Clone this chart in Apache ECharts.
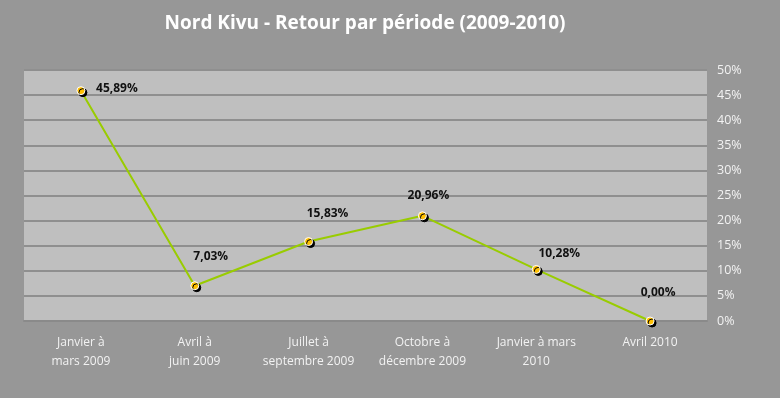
<!DOCTYPE html>
<html>
<head>
<meta charset="utf-8">
<script src="https://cdn.jsdelivr.net/npm/echarts@6/dist/echarts.min.js"></script>
<style>
  html, body { margin: 0; padding: 0; background: #979797; }
  #chart { width: 780px; height: 398px; }
</style>
</head>
<body>
<div id="chart"></div>
<script>
// Periods (x axis) and the return rate per period, in percent
const periods = [
  'Janvier à\nmars 2009',
  'Avril à\njuin 2009',
  'Juillet à\nseptembre 2009',
  'Octobre à\ndécembre 2009',
  'Janvier à mars\n2010',
  'Avril 2010'
];
const returnRates = [45.89, 7.03, 15.83, 20.96, 10.28, 0.00];
const yTicks = [0, 5, 10, 15, 20, 25, 30, 35, 40, 45, 50];

// Where each value label sits relative to its marker
const labelOffsets = [[36, -2], [16, -29], [19, -28], [6, -20], [23, -16], [8, -28]];

const fmt = v => v.toFixed(2).replace('.', ',') + '%';

const chart = echarts.init(document.getElementById('chart'));
chart.setOption({
  backgroundColor: '#979797',
  animation: false,
  title: {
    text: 'Nord Kivu - Retour par période (2009-2010)',
    left: 360,
    top: 9,
    textAlign: 'center',
    textStyle: { color: '#ffffff', fontFamily: 'Open Sans', fontWeight: 'bold', fontSize: 19 }
  },
  grid: { left: 24, right: 73, top: 70, bottom: 77, show: true, backgroundColor: '#bfbfbf', borderWidth: 0 },
  xAxis: {
    type: 'category',
    data: periods,
    boundaryGap: true,
    axisLine: { show: true, lineStyle: { color: '#8a8a8a', width: 2 } },
    axisTick: { show: false },
    axisLabel: {
      color: '#f2f2f2', fontFamily: 'Open Sans', fontSize: 12, lineHeight: 19,
      margin: 12, interval: 0
    }
  },
  yAxis: {
    type: 'value',
    position: 'right',
    min: yTicks[0],
    max: yTicks[yTicks.length - 1],
    interval: 5,
    axisLine: { show: false },
    axisTick: { show: false },
    splitLine: { lineStyle: { color: '#8f8f8f', width: 2 } },
    axisLabel: {
      color: '#f2f2f2', fontFamily: 'Open Sans', fontSize: 12.5, margin: 10,
      formatter: v => v + '%'
    }
  },
  series: [{
    type: 'line',
    data: returnRates.map((v, i) => ({
      value: v,
      label: { offset: labelOffsets[i] }
    })),
    lineStyle: { color: '#99cc00', width: 2 },
    symbol: 'circle',
    symbolSize: 8,
    itemStyle: {
      color: '#ffc000', borderColor: '#ffffff', borderWidth: 1,
      shadowColor: '#000000', shadowBlur: 0, shadowOffsetX: 2, shadowOffsetY: 2
    },
    label: {
      show: true,
      position: 'inside',
      color: '#111111',
      fontFamily: 'Open Sans',
      fontWeight: 'bold',
      fontSize: 12,
      formatter: p => fmt(p.value)
    },
    z: 3
  }]
});
</script>
</body>
</html>
